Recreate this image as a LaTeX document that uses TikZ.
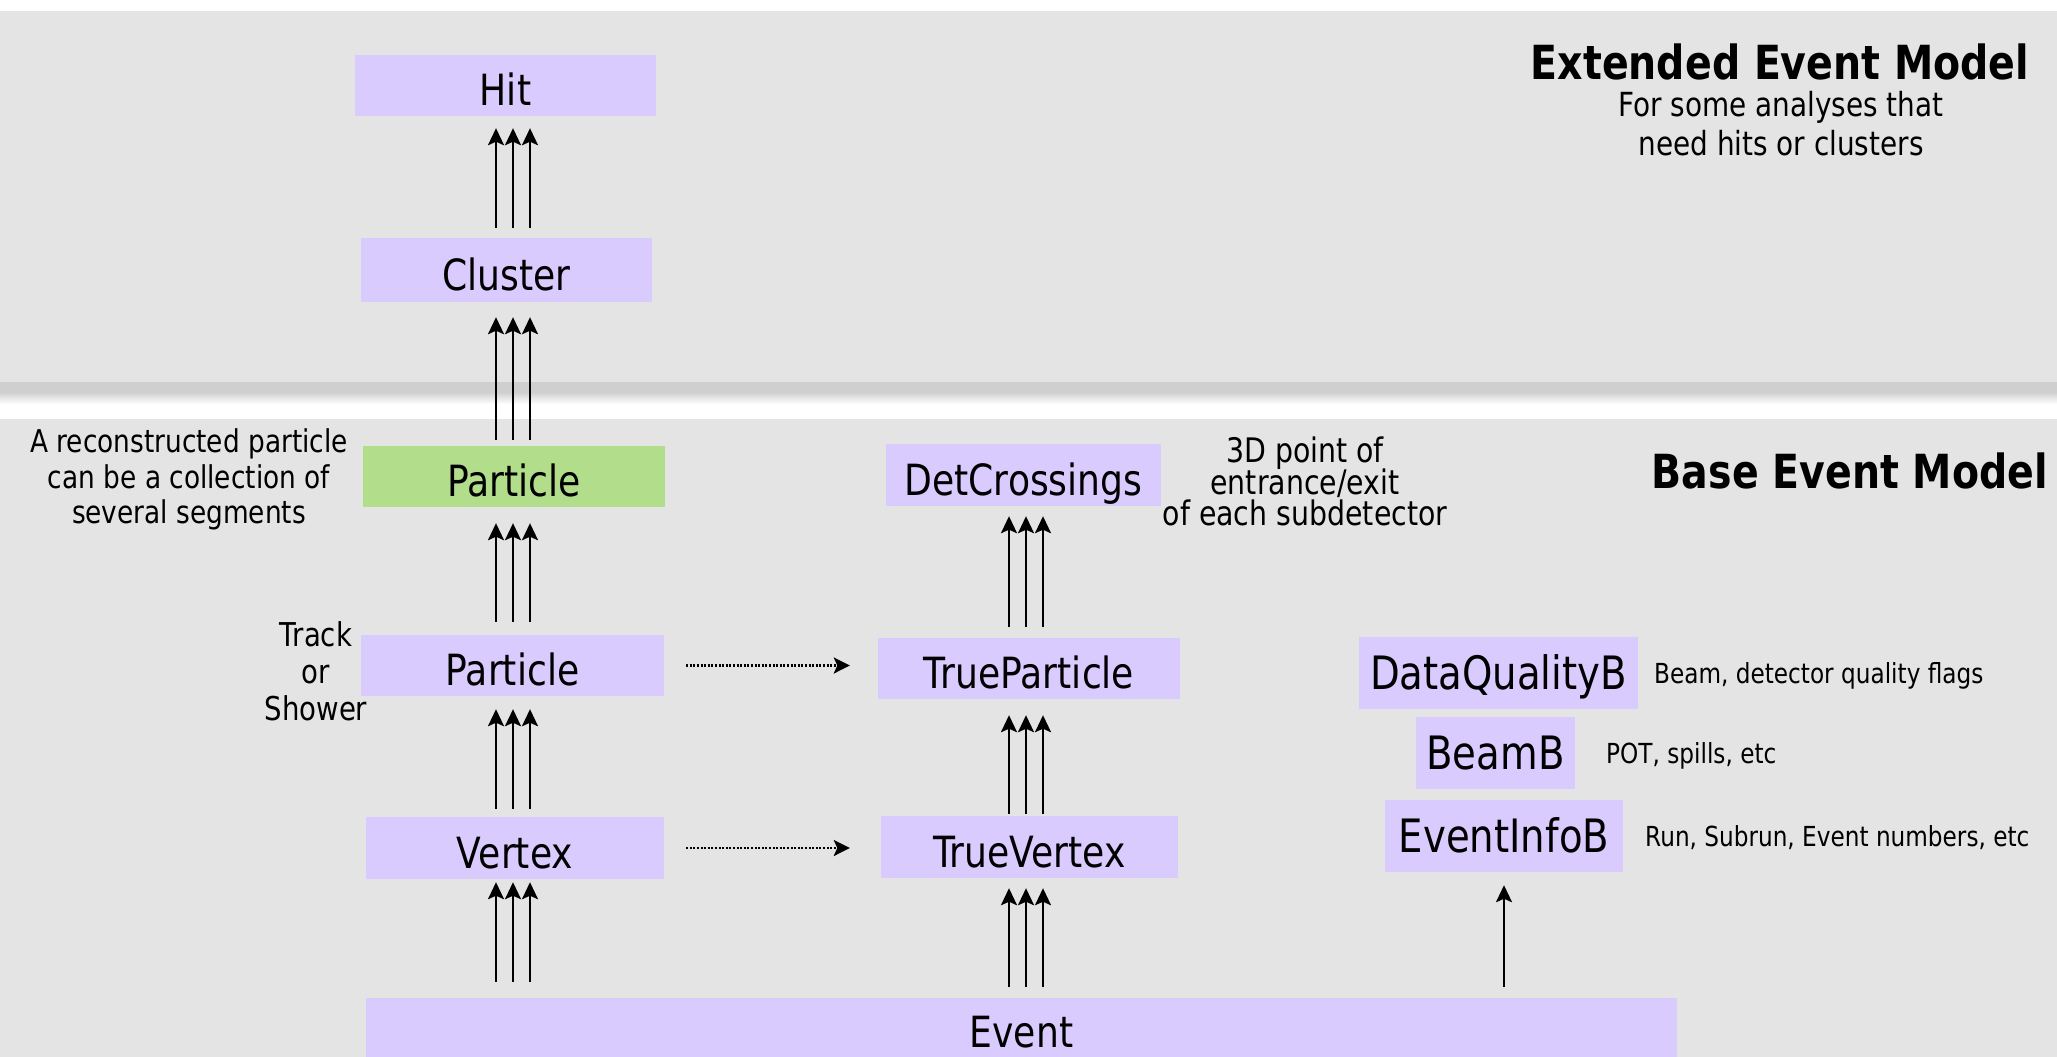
\documentclass[tikz,border=0pt]{standalone}
\usepackage{fontspec}
\setmainfont{DejaVu Sans}[FakeStretch=0.84]
\usetikzlibrary{arrows.meta,calc}

\definecolor{panelgrey}{RGB}{228,228,228}
\definecolor{bandgrey}{RGB}{207,207,207}
\definecolor{boxpurple}{RGB}{218,203,255}
\definecolor{boxgreen}{RGB}{178,222,139}

\tikzset{
  classbox/.style={fill=boxpurple, inner sep=0pt, text height=40pt, text depth=0pt,
                   font=\fontsize{43}{49}\selectfont},
  greenbox/.style={classbox, fill=boxgreen},
  bbox/.style={classbox, text height=32pt, font=\fontsize{46}{53}\selectfont},
  title/.style={inner sep=0pt, anchor=base, font=\fontsize{47}{55}\selectfont\bfseries},
  comment/.style={inner sep=0pt, anchor=base},
  note/.style={inner sep=0pt, anchor=base west, font=\fontsize{27.6}{33}\selectfont},
  uparrow/.style={line width=2.3pt, -{Stealth[length=17pt,width=16pt,inset=3.5pt]}},
  linkarrow/.style={line width=2.6pt, dash pattern=on 2pt off 1.6pt,
                    -{Stealth[length=16pt,width=16pt,inset=3.5pt]}},
}

% three parallel upward arrows between two stacked classes
% #1 lower node, #2 upper node, #3 column coordinate, #4 gap at the tail, #5 gap at the head
\newcommand\triplearrow[5]{%
  \foreach \dx in {-17,0,17}{%
    \draw[uparrow, shorten <=#4pt, shorten >=#5pt]
      ($(#1.north -| #3)+(\dx,0)$) -- ($(#2.south -| #3)+(\dx,0)$);
  }}

\begin{document}
\begin{tikzpicture}[x=1pt,y=-1pt]
\useasboundingbox (0,0) rectangle (2057,1057);

% panels and the separating band
\fill[white] (0,0) rectangle (2057,1057);
\fill[panelgrey] (0,11) rectangle (2057,382);
\fill[panelgrey] (0,419) rectangle (2057,1057);
\fill[bandgrey] (0,382) rectangle (2057,392);
\shade[top color=bandgrey, bottom color=white] (0,392) rectangle (2057,404);

% column positions of the arrow bundles
\coordinate (colL) at (513,0);
\coordinate (colM) at (1026,0);

% extended event model
\node[classbox, minimum width=301pt, minimum height=61pt] (hit) at (505.5,85.5) {Hit};
\node[classbox, minimum width=291pt, minimum height=64pt] (cluster) at (506.5,270) {Cluster};

% base event model: reconstruction column
\node[greenbox, minimum width=302pt, minimum height=61pt] (partG) at (514,476.5) {Particle};
\node[classbox, minimum width=303pt, minimum height=61pt] (partP) at (512.5,665.5) {Particle};
\node[classbox, minimum width=298pt, minimum height=62pt] (vertex) at (515,848) {Vertex};

% truth column
\node[classbox, minimum width=275pt, minimum height=62pt] (detcross) at (1023.5,475) {DetCrossings};
\node[classbox, minimum width=302pt, minimum height=61pt] (trueP) at (1029,668.5) {TrueParticle};
\node[classbox, minimum width=297pt, minimum height=62pt] (trueV) at (1029.5,847) {TrueVertex};

% bunch information
\node[bbox, minimum width=279pt, minimum height=72pt] (dq) at (1498.5,673) {DataQualityB};
\node[bbox, minimum width=159pt, minimum height=72pt] (beamB) at (1495.5,753) {BeamB};
\node[bbox, minimum width=238pt, minimum height=72pt] (evinfo) at (1504,836) {EventInfoB};

% event
\node[classbox, minimum width=1311pt, minimum height=59pt] (event) at (1021.5,1027.5) {Event};

% arrows
\triplearrow{cluster}{hit}{colL}{10}{12}
\triplearrow{partG}{cluster}{colL}{6}{15}
\triplearrow{partP}{partG}{colL}{13}{16}
\triplearrow{vertex}{partP}{colL}{8}{13}
\triplearrow{event}{vertex}{colL}{16}{3}
\triplearrow{trueP}{detcross}{colM}{11}{10}
\triplearrow{trueV}{trueP}{colM}{2}{16}
\triplearrow{event}{trueV}{colM}{11}{10}
\draw[uparrow, shorten <=11pt, shorten >=13pt] (event.north -| evinfo.south) -- (evinfo.south);

\draw[linkarrow, shorten <=22pt, shorten >=28pt] (partP.east) -- (partP.east -| trueP.west);
\draw[linkarrow, shorten <=22pt, shorten >=31pt] (vertex.east) -- (vertex.east -| trueV.west);

% titles
\node[title] (exttitle) at (1780,80) {Extended Event Model};
\node[comment, font=\fontsize{33.2}{39}\selectfont] (extA) at (1781,117) {For some analyses that};
\node[comment, font=\fontsize{33.2}{39}\selectfont] (extB) at (1781,155) {need hits or clusters};
\node[title, anchor=base east] (basetitle) at (2048,488) {Base Event Model};

% comments
\node[comment, font=\fontsize{31.4}{36}\selectfont] (recoA) at (189,452) {A reconstructed particle};
\node[comment, font=\fontsize{31.4}{36}\selectfont] (recoB) at (189,488) {can be a collection of};
\node[comment, font=\fontsize{31.4}{36}\selectfont] (recoC) at (189,523) {several segments};

\node[comment, font=\fontsize{32.8}{38}\selectfont] (trkA) at (316,646) {Track};
\node[comment, font=\fontsize{32.8}{38}\selectfont] (trkB) at (316,683) {or};
\node[comment, font=\fontsize{32.8}{38}\selectfont] (trkC) at (316,720) {Shower};

\node[comment, font=\fontsize{33.8}{39}\selectfont] (detA) at (1305,462) {3D point of};
\node[comment, font=\fontsize{33.8}{39}\selectfont] (detB) at (1305,494) {entrance/exit};
\node[comment, font=\fontsize{33.8}{39}\selectfont] (detC) at (1305,525) {of each subdetector};

\node[note] (dqnote) at (1654,683) {Beam, detector quality flags};
\node[note] (beamnote) at (1606,763) {POT, spills, etc};
\node[note] (infonote) at (1645,846) {Run, Subrun, Event numbers, etc};
\end{tikzpicture}
\end{document}
